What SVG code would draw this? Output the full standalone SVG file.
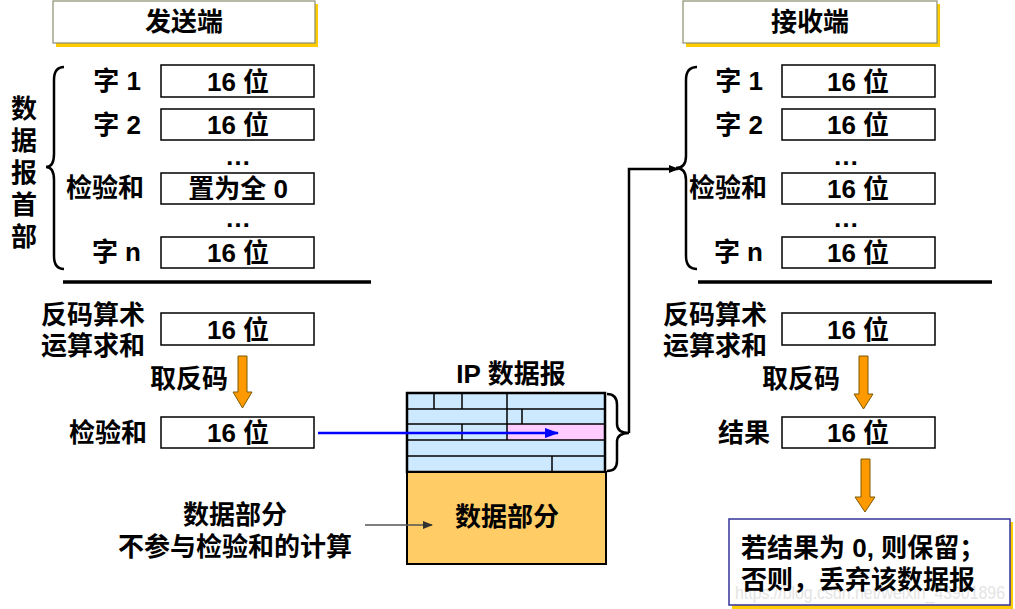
<svg xmlns="http://www.w3.org/2000/svg" width="1015" height="609" viewBox="0 0 1015 609">
<defs>
<style>
text{font-family:"Liberation Sans","Noto Sans CJK SC",sans-serif;fill:#000}
.b{font-size:26px;font-weight:bold;text-anchor:middle}
.l{font-size:26px;font-weight:bold}
.m{text-anchor:middle}
.e{text-anchor:end}
.fld{fill:#fff;stroke:#000;stroke-width:1.5}
.ttl{fill:#fff;stroke:#8c8c70;stroke-width:1.2}
.sh{fill:#ffcc00}
.br{fill:none;stroke:#000;stroke-width:2.5}
.oa{fill:#ff9900;stroke:#7a5a00;stroke-width:1}
.hl{stroke:#000;stroke-width:3.5}
.ip{fill:#cce9ff;stroke:#000;stroke-width:1.5}
.g{stroke:#000;stroke-width:1.5}
</style>
<marker id="ak" markerWidth="10" markerHeight="8" refX="9" refY="4" orient="auto" markerUnits="userSpaceOnUse"><path d="M0,0 L10,4 L0,8 Z" fill="#000"/></marker>
<marker id="ab" markerWidth="14" markerHeight="10" refX="13" refY="5" orient="auto" markerUnits="userSpaceOnUse"><path d="M0,0 L14,5 L0,10 Z" fill="#0000ff"/></marker>
<marker id="ag" markerWidth="10" markerHeight="8" refX="9" refY="4" orient="auto" markerUnits="userSpaceOnUse"><path d="M0,0 L10,4 L0,8 Z" fill="#333"/></marker>
</defs>

<g id="sender-title">
<rect class="sh" x="56" y="4" width="262" height="43"/>
<rect class="ttl" x="53" y="1" width="262" height="42"/>
<text class="l m" x="184" y="31">发送端</text>
</g>
<g id="receiver-title">
<rect class="sh" x="686" y="4" width="254" height="43"/>
<rect class="ttl" x="683" y="1" width="254" height="42"/>
<text class="l m" x="810" y="31">接收端</text>
</g>

<g id="sender-header">
<text class="l m" x="24" y="118">数</text>
<text class="l m" x="24" y="150">据</text>
<text class="l m" x="24" y="182">报</text>
<text class="l m" x="24" y="214">首</text>
<text class="l m" x="24" y="246">部</text>
<path class="br" d="M64,67 Q54,67 54,80 V154 Q54,167 46,167 Q54,167 54,180 V256 Q54,269 64,269"/>
<text class="l e" x="141" y="90">字 1</text>
<rect class="fld" x="161" y="65" width="153" height="32"/>
<text class="b" x="238" y="91">16 位</text>
<text class="l e" x="141" y="134">字 2</text>
<rect class="fld" x="161" y="109" width="153" height="31"/>
<text class="b" x="238" y="134">16 位</text>
<text class="b" x="238" y="165">…</text>
<text class="l e" x="144" y="197">检验和</text>
<rect class="fld" x="161" y="173" width="153" height="31"/>
<text class="b" x="238" y="198">置为全 0</text>
<text class="b" x="238" y="227">…</text>
<text class="l e" x="141" y="261">字 n</text>
<rect class="fld" x="161" y="237" width="153" height="31"/>
<text class="b" x="238" y="262">16 位</text>
</g>
<line class="hl" x1="63" y1="282" x2="371" y2="282"/>

<g id="sender-sum">
<text class="l" x="41" y="324">反码算术</text>
<text class="l" x="41" y="355">运算求和</text>
<rect class="fld" x="161" y="313" width="153" height="32"/>
<text class="b" x="238" y="339">16 位</text>
</g>
<g id="sender-arrow">
<path class="oa" d="M238,356 H247 V392 H252 L242.5,408 L233,392 H238 Z"/>
<text class="l" x="150" y="388">取反码</text>
</g>
<g id="sender-checksum">
<text class="l e" x="147" y="442">检验和</text>
<rect class="fld" x="161" y="417" width="153" height="31"/>
<text class="b" x="238" y="442">16 位</text>
</g>

<g id="ip-datagram">
<text class="b" x="511" y="383">IP 数据报</text>
<rect class="ip" x="407" y="393" width="198" height="79"/>
<rect x="507" y="424" width="98" height="16" fill="#ffccff"/>
<line class="g" x1="407" y1="409" x2="605" y2="409"/>
<line class="g" x1="407" y1="424" x2="605" y2="424"/>
<line class="g" x1="407" y1="440" x2="605" y2="440"/>
<line class="g" x1="407" y1="456" x2="605" y2="456"/>
<line class="g" x1="434" y1="393" x2="434" y2="409"/>
<line class="g" x1="462" y1="393" x2="462" y2="409"/>
<line class="g" x1="507" y1="393" x2="507" y2="440"/>
<line class="g" x1="522" y1="409" x2="522" y2="424"/>
<line class="g" x1="462" y1="424" x2="462" y2="440"/>
<line class="g" x1="552" y1="456" x2="552" y2="472"/>
<rect x="407" y="393" width="198" height="79" fill="none" stroke="#000" stroke-width="2.5"/>
<rect x="407" y="472" width="199" height="92" fill="#ffcc66" stroke="#000" stroke-width="2"/>
<text class="l m" x="507" y="526">数据部分</text>
<path class="br" d="M607,394 Q617,394 617,405 V424 Q617,433 629,433 Q617,433 617,442 V461 Q617,471 607,471"/>
</g>

<g id="data-note">
<text class="l m" x="235" y="524">数据部分</text>
<text class="l m" x="235" y="556">不参与检验和的计算</text>
</g>

<g id="receiver-header">
<path class="br" d="M697,67 Q686,67 686,80 V156 Q686,168 676,168 Q686,168 686,180 V256 Q686,269 697,269"/>
<text class="l e" x="763" y="90">字 1</text>
<rect class="fld" x="782" y="65" width="153" height="32"/>
<text class="b" x="858" y="91">16 位</text>
<text class="l e" x="763" y="134">字 2</text>
<rect class="fld" x="782" y="109" width="153" height="31"/>
<text class="b" x="858" y="134">16 位</text>
<text class="b" x="846" y="165">…</text>
<text class="l e" x="767" y="197">检验和</text>
<rect class="fld" x="782" y="173" width="153" height="31"/>
<text class="b" x="858" y="198">16 位</text>
<text class="b" x="846" y="227">…</text>
<text class="l e" x="763" y="261">字 n</text>
<rect class="fld" x="782" y="237" width="153" height="31"/>
<text class="b" x="858" y="262">16 位</text>
</g>
<line class="hl" x1="698" y1="282" x2="992" y2="282"/>

<g id="receiver-sum">
<text class="l" x="663" y="324">反码算术</text>
<text class="l" x="663" y="355">运算求和</text>
<rect class="fld" x="782" y="313" width="153" height="32"/>
<text class="b" x="858" y="339">16 位</text>
</g>
<g id="receiver-arrow">
<path class="oa" d="M859,356 H868 V394 H873 L863.5,409 L854,394 H859 Z"/>
<text class="l" x="762" y="388">取反码</text>
</g>
<g id="receiver-result">
<text class="l e" x="770" y="442">结果</text>
<rect class="fld" x="782" y="417" width="153" height="31"/>
<text class="b" x="858" y="442">16 位</text>
</g>
<g id="result-arrow">
<path class="oa" d="M861,459 H870 V497 H875 L865,512 L855,497 H861 Z"/>
</g>
<g id="result-note">
<rect class="sh" x="732" y="522" width="281" height="87"/>
<rect x="729" y="519" width="281" height="86" fill="#fff" stroke="#333399" stroke-width="1.5"/>
<text x="735" y="599" font-size="18" textLength="270" lengthAdjust="spacingAndGlyphs" style="fill:#e4e4e4">https://blog.csdn.net/weixin_43901896</text>
<text class="l" x="741" y="557">若结果为 0, 则保留；</text>
<text class="l" x="741" y="589">否则，丢弃该数据报</text>
</g>

<g id="connectors">
<line x1="318" y1="433" x2="558" y2="433" stroke="#0000ff" stroke-width="2.5" marker-end="url(#ab)"/>
<path d="M629,433 V169 H678" fill="none" stroke="#000" stroke-width="2.5" marker-end="url(#ak)"/>
<line x1="365" y1="525" x2="432" y2="525" stroke="#555" stroke-width="1.5" marker-end="url(#ag)"/>
</g>
</svg>
